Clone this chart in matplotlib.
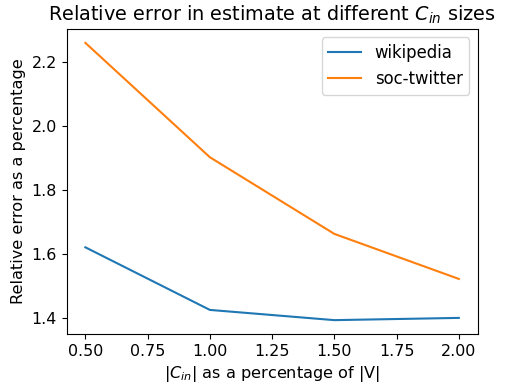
import matplotlib
matplotlib.use("Agg")
import matplotlib.pyplot as plt

sizes = [0.5, 1.0, 1.5, 2.0]
wikipedia = [1.620, 1.424, 1.392, 1.399]
soc_twitter = [2.260, 1.902, 1.662, 1.521]

plt.rcParams['font.size'] = 11.5
fig = plt.figure(figsize=(5.05, 3.84), dpi=100)
ax = fig.add_axes([66.7/505, 1 - 334/384, (477.5-66.7)/505, (334-29)/384])
ax.plot(sizes, wikipedia, label="wikipedia")
ax.plot(sizes, soc_twitter, label="soc-twitter")
ax.set_title(r"Relative error in estimate at different $C_{in}$ sizes", fontsize=13.9)
ax.set_xlabel(r"$|C_{in}|$ as a percentage of |V|", fontsize=11.6)
ax.set_ylabel("Relative error as a percentage", fontsize=11.6)
ax.tick_params(labelsize=11.4)
ax.legend(loc="upper right", fontsize=11.9)
fig.savefig("out.png", dpi=100)
